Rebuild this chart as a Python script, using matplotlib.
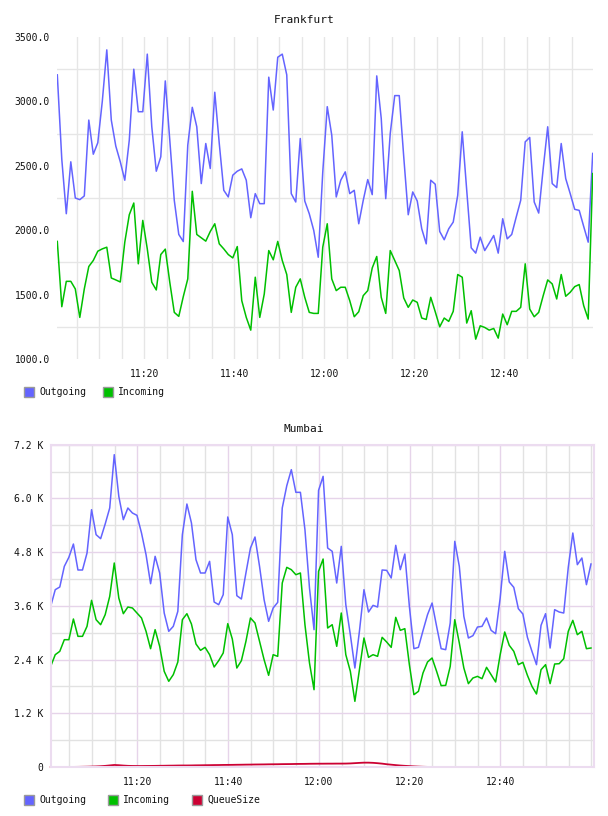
import matplotlib
matplotlib.use("Agg")
import matplotlib.pyplot as plt
import matplotlib.dates as mdates
from matplotlib.patches import Rectangle
import pandas as pd

W, H = 608, 816
FONT = "DejaVu Sans Mono"
BLUE = "#6464ff"
GREEN = "#00c000"
RED = "#cc0033"

# Frankfurt, one sample per minute
fra_out = [3206, 2550, 2128, 2531, 2250, 2237, 2266, 2855, 2590, 2679,
           3000, 3400, 2855, 2653, 2531, 2388, 2700, 3250, 2920, 2920,
           3367, 2803, 2458, 2570, 3159, 2700, 2232, 1967, 1912, 2660,
           2954, 2803, 2362, 2673, 2479, 3071, 2673, 2310, 2258, 2427,
           2458, 2476, 2388, 2097, 2284, 2206, 2206, 3188, 2933, 3343,
           3367, 3206, 2284, 2219, 2712, 2227, 2128, 1998, 1790, 2450,
           2959, 2738, 2258, 2388, 2453, 2284, 2310, 2050, 2232, 2393,
           2276, 3198, 2868, 2245, 2751, 3045, 3045, 2570, 2120, 2297,
           2227, 2011, 1894, 2388, 2357, 1990, 1926, 2011, 2063, 2271,
           2764, 2310, 1863, 1822, 1946, 1842, 1899, 1959, 1822, 2089,
           1933, 1967, 2102, 2232, 2686, 2720, 2219, 2133, 2479, 2803,
           2362, 2331, 2673, 2401, 2284, 2162, 2154, 2029, 1907, 2596]
fra_in = [1913, 1406, 1603, 1603, 1544, 1323, 1544, 1718, 1765, 1837,
          1855, 1868, 1629, 1614, 1598, 1907, 2120, 2211, 1739, 2076,
          1855, 1596, 1536, 1811, 1853, 1596, 1362, 1331, 1484, 1622,
          2302, 1967, 1941, 1915, 1990, 2050, 1894, 1855, 1811, 1785,
          1873, 1453, 1323, 1224, 1635, 1323, 1505, 1842, 1770, 1913,
          1765, 1656, 1362, 1557, 1622, 1479, 1362, 1354, 1354, 1868,
          2050, 1622, 1531, 1557, 1557, 1453, 1328, 1367, 1492, 1531,
          1707, 1796, 1479, 1354, 1842, 1765, 1687, 1474, 1401, 1458,
          1440, 1318, 1307, 1479, 1367, 1250, 1318, 1292, 1370, 1656,
          1635, 1279, 1375, 1154, 1258, 1245, 1224, 1237, 1162, 1349,
          1266, 1370, 1370, 1401, 1739, 1388, 1328, 1362, 1492, 1614,
          1583, 1466, 1656, 1487, 1518, 1562, 1578, 1414, 1310, 2440]

# Mumbai
mum_out = [3589, 3961, 4021, 4482, 4684, 4981, 4401, 4401, 4780, 5748,
           5190, 5101, 5428, 5786, 6977, 6046, 5525, 5786, 5674, 5622,
           5227, 4743, 4095, 4706, 4334, 3440, 3031, 3142, 3477, 5190,
           5875, 5451, 4631, 4334, 4334, 4594, 3686, 3626, 3850, 5585,
           5190, 3827, 3753, 4334, 4892, 5138, 4482, 3738, 3254, 3552,
           3678, 5786, 6284, 6642, 6136, 6136, 5302, 3999, 3068, 6180,
           6493, 4892, 4818, 4110, 4929, 3626, 2956, 2211, 3031, 3961,
           3462, 3611, 3574, 4401, 4393, 4222, 4952, 4408, 4758, 3589,
           2643, 2673, 3045, 3403, 3663, 3142, 2643, 2621, 3217, 5041,
           4482, 3366, 2882, 2934, 3127, 3142, 3329, 3053, 2978, 3775,
           4818, 4133, 4013, 3537, 3418, 2897, 2584, 2286, 3165, 3425,
           2658, 3515, 3462, 3440, 4460, 5227, 4520, 4669, 4073, 4535]
mum_in = [2249, 2509, 2584, 2844, 2844, 3306, 2919, 2919, 3142, 3723,
          3291, 3179, 3403, 3812, 4557, 3775, 3425, 3574, 3552, 3440,
          3329, 3031, 2643, 3068, 2696, 2137, 1914, 2063, 2346, 3291,
          3425, 3194, 2748, 2606, 2673, 2509, 2234, 2375, 2547, 3202,
          2859, 2211, 2375, 2807, 3329, 3217, 2807, 2398, 2048, 2509,
          2472, 4110, 4460, 4408, 4296, 4334, 3179, 2323, 1727, 4371,
          4646, 3105, 3179, 2696, 3440, 2509, 2137, 1467, 2174, 2882,
          2450, 2509, 2472, 2897, 2792, 2673, 3343, 3053, 3090, 2286,
          1616, 1690, 2100, 2346, 2435, 2137, 1817, 1824, 2249, 3291,
          2770, 2211, 1862, 1988, 2025, 1973, 2226, 2063, 1899, 2509,
          3016, 2718, 2584, 2286, 2338, 2048, 1802, 1631, 2174, 2286,
          1862, 2301, 2308, 2420, 3031, 3276, 2956, 3031, 2643, 2658]
mum_queue = [0, 0, 0, 0, 1, 2, 3, 5, 7, 10,
             13, 18, 25, 35, 45, 40, 32, 26, 23, 22,
             22, 23, 24, 25, 27, 28, 30, 31, 33, 34,
             34, 35, 37, 38, 40, 41, 43, 44, 46, 47,
             48, 50, 51, 53, 54, 56, 57, 58, 60, 61,
             62, 64, 65, 66, 68, 69, 70, 72, 73, 74,
             74, 75, 75, 76, 76, 77, 80, 86, 92, 97,
             97, 93, 85, 75, 62, 52, 42, 33, 26, 20,
             14, 9, 5, 2, 0, 0, 0, 0, 0, 0,
             0, 0, 0, 0, 0, 0, 0, 0, 0, 0,
             0, 0, 0, 0, 0, 0, 0, 0, 0, 0,
             0, 0, 0, 0, 0, 0, 0, 0, 0, 0]

day = "2016-05-10 "
fra_times = pd.date_range(day + "11:00:40", periods=len(fra_out), freq="min")
mum_times = pd.date_range(day + "11:00:56", periods=len(mum_out), freq="min")
time_labels = ["11:20", "11:40", "12:00", "12:20", "12:40"]
fra_yticks = [1000, 1500, 2000, 2500, 3000, 3500]
fra_ygrid = [1250, 1750, 2250, 2750, 3250]
mum_yticks = [0, 1200, 2400, 3600, 4800, 6000, 7200]
mum_ylabels = ["0", "1.2 K", "2.4 K", "3.6 K", "4.8 K", "6.0 K", "7.2 K"]
mum_ygrid = [600, 1800, 3000, 4200, 5400, 6600]


def px_axes(fig, x0, y0, x1, y1):
    return fig.add_axes([x0 / W, 1 - y1 / H, (x1 - x0) / W, (y1 - y0) / H])


def legend(fig, y, items):
    for x, label, color in items:
        fig.add_artist(Rectangle((x / W, 1 - (y + 5) / H), 10 / W, 10 / H,
                                 transform=fig.transFigure, facecolor=color,
                                 edgecolor="#9a9a9a", lw=1))
        fig.text((x + 15) / W, 1 - y / H, label, fontsize=7, family=FONT,
                 va="center", color="#111111")


def style_time_axis(ax):
    ticks = [pd.Timestamp(day + t) for t in time_labels]
    ax.set_xticks(ticks)
    ax.set_xticklabels(time_labels)
    ax.xaxis.set_minor_locator(mdates.MinuteLocator(byminute=range(0, 60, 5)))
    ax.tick_params(which="both", length=0, labelsize=7, labelcolor="#111111")
    ax.tick_params(axis="x", pad=7)
    ax.tick_params(axis="y", pad=5.5)
    for lab in ax.get_xticklabels() + ax.get_yticklabels():
        lab.set_family(FONT)
    ax.set_axisbelow(True)


fig = plt.figure(figsize=(W / 100, H / 100), dpi=100)

# ---- Frankfurt ----
ax1 = px_axes(fig, 57.3, 37, 592.7, 359)
ax1.plot(fra_times, fra_out, color=BLUE, lw=1.1)
ax1.plot(fra_times, fra_in, color=GREEN, lw=1.1)
ax1.set_xlim(fra_times[0], fra_times[-1])
ax1.set_ylim(1000, 3500)
ax1.set_yticks(fra_yticks)
ax1.set_yticklabels(["%.1f" % v for v in fra_yticks])
ax1.set_yticks(fra_ygrid, minor=True)
style_time_axis(ax1)
ax1.grid(axis="x", which="both", color="#e6e6e6", lw=1)
ax1.grid(axis="y", which="minor", color="#e6e6e6", lw=1)
for s in ax1.spines.values():
    s.set_visible(False)
fig.text(0.5, 1 - 20 / H, "Frankfurt", ha="center", va="center",
         fontsize=8, family=FONT, color="#111111")
legend(fig, 392, [(24, "Outgoing", BLUE), (103, "Incoming", GREEN)])

# ---- Mumbai ----
ax2 = px_axes(fig, 50.7, 444.7, 594, 767)
ax2.plot(mum_times, mum_out, color=BLUE, lw=1.1)
ax2.plot(mum_times, mum_in, color=GREEN, lw=1.1)
ax2.plot(mum_times, mum_queue, color=RED, lw=1.3, clip_on=False)
ax2.set_xlim(mum_times[0], mum_times[-1] + pd.Timedelta(seconds=40))
ax2.set_ylim(0, 7200)
ax2.set_yticks(mum_yticks)
ax2.set_yticklabels(mum_ylabels)
ax2.set_yticks(mum_ygrid, minor=True)
style_time_axis(ax2)
ax2.grid(which="major", color="#e6d4ea", lw=1)
ax2.grid(which="minor", color="#e2e2e2", lw=1)
for s in ax2.spines.values():
    s.set_color("#ecdcf0")
    s.set_linewidth(1.5)
fig.text(0.5, 1 - 429 / H, "Mumbai", ha="center", va="center",
         fontsize=8, family=FONT, color="#111111")
legend(fig, 800, [(24, "Outgoing", BLUE), (108, "Incoming", GREEN),
                  (192, "QueueSize", RED)])

fig.savefig("out.png", dpi=100)
